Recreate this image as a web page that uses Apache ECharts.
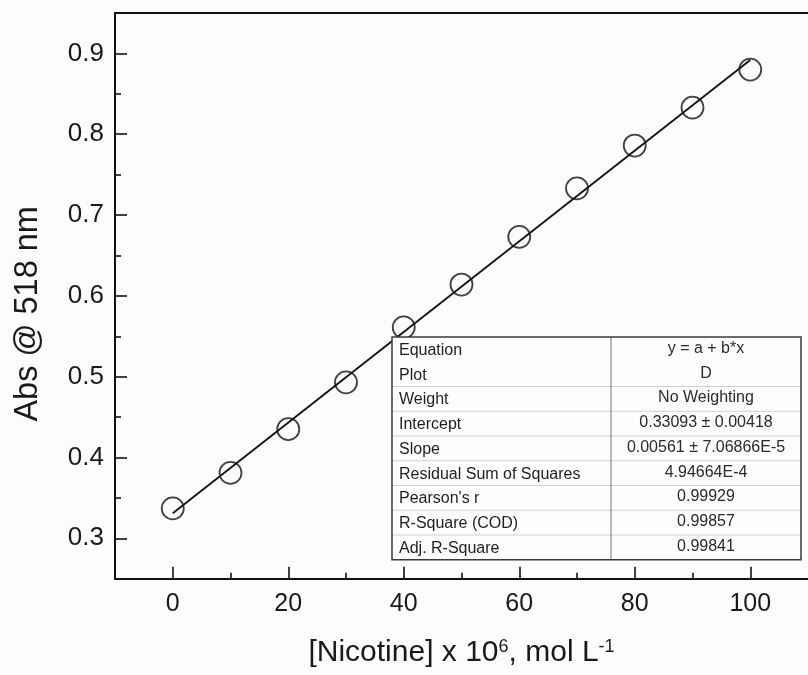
<!DOCTYPE html>
<html>
<head>
<meta charset="utf-8">
<script src="https://cdn.jsdelivr.net/npm/echarts@6/dist/echarts.min.js"></script>
<style>html,body{margin:0;padding:0;background:#fcfcfa;}#c{width:808px;height:675px;}</style>
</head>
<body>
<div id="c"></div>
<script>
// ---- data ----
var concentrations = [0, 10, 20, 30, 40, 50, 60, 70, 80, 90, 100];
var absorbances = [0.337, 0.381, 0.435, 0.493, 0.561, 0.614, 0.673, 0.733, 0.786, 0.833, 0.880];
var fitX = [0, 100];
var fitY = [0.33093, 0.89193];
var xTickValues = [0, 20, 40, 60, 80, 100];
var xMinorTickValues = [10, 30, 50, 70, 90];
var yTickValues = [0.3, 0.4, 0.5, 0.6, 0.7, 0.8, 0.9];
var yMinorTickValues = [0.35, 0.45, 0.55, 0.65, 0.75, 0.85];
var tableLabels = ['Equation', 'Plot', 'Weight', 'Intercept', 'Slope', 'Residual Sum of Squares', "Pearson's r", 'R-Square (COD)', 'Adj. R-Square'];
var tableValues = ['y = a + b*x', 'D', 'No Weighting', '0.33093 \u00b1 0.00418', '0.00561 \u00b1 7.06866E-5', '4.94664E-4', '0.99929', '0.99857', '0.99841'];

// ---- layout ----
var FONT = 'Liberation Sans, Arial, sans-serif';
var chart = echarts.init(document.getElementById('c'));

var tbl = {left: 392, top: 337, right: 801, mid: 611, rowH: 24.75};
var graphics = [];
var nRows = tableLabels.length;
var tblBottom = tbl.top + nRows * tbl.rowH;
graphics.push({type: 'rect', z: 100, shape: {x: tbl.left, y: tbl.top, width: tbl.right - tbl.left, height: tblBottom - tbl.top},
  style: {fill: '#fdfdfc', stroke: 'none'}});
for (var i = 2; i < nRows; i++) {
  var yy = tbl.top + i * tbl.rowH;
  graphics.push({type: 'line', z: 101, shape: {x1: tbl.left, y1: yy, x2: tbl.right, y2: yy}, style: {stroke: '#cfcfcf', lineWidth: 1.2}});
}
graphics.push({type: 'line', z: 102, shape: {x1: tbl.mid, y1: tbl.top, x2: tbl.mid, y2: tblBottom}, style: {stroke: '#8a8a8a', lineWidth: 1.2}});
graphics.push({type: 'rect', z: 103, shape: {x: tbl.left, y: tbl.top, width: tbl.right - tbl.left, height: tblBottom - tbl.top},
  style: {fill: 'none', stroke: '#3a3a3a', lineWidth: 1.5}});
for (var j = 0; j < nRows; j++) {
  var cy = tbl.top + (j + 0.5) * tbl.rowH;
  graphics.push({type: 'text', z: 104, x: tbl.left + 7, y: cy + 1,
    style: {text: tableLabels[j], font: '16px ' + FONT, fill: '#1e1e1e', verticalAlign: 'middle', align: 'left'}});
  graphics.push({type: 'text', z: 104, x: (tbl.mid + tbl.right) / 2, y: cy - 1,
    style: {text: tableValues[j], font: '16px ' + FONT, fill: '#2a2a2a', verticalAlign: 'middle', align: 'center'}});
}

var axisLineStyle = {color: '#111', width: 2};
var option = {
  backgroundColor: '#fcfcfa',
  animation: false,
  grid: {left: 115, top: 13, right: -8.5, bottom: 96.3, containLabel: false},
  xAxis: [
    {
      type: 'value', min: -10, max: 110, position: 'bottom',
      axisLine: {show: true, onZero: false, lineStyle: axisLineStyle},
      axisTick: {show: true, inside: true, length: 12, customValues: xTickValues, lineStyle: {color: '#111', width: 1.6}},
      axisLabel: {show: true, customValues: xTickValues, margin: 13, fontSize: 25, fontFamily: FONT, color: '#1a1a1a'},
      splitLine: {show: false},
      name: '[Nicotine] x 10{sup|6}, mol L{sup|-1}',
      nameLocation: 'middle', nameGap: 59,
      nameTextStyle: {fontSize: 30, fontFamily: FONT, color: '#1a1a1a',
        rich: {sup: {fontSize: 18, fontFamily: FONT, color: '#1a1a1a', verticalAlign: 'top', padding: [0, 0, 0, 0]}}}
    },
    {
      type: 'value', min: -10, max: 110, position: 'bottom',
      axisLine: {show: false, onZero: false},
      axisTick: {show: true, inside: true, length: 6, customValues: xMinorTickValues, lineStyle: {color: '#111', width: 1.6}},
      axisLabel: {show: false},
      splitLine: {show: false}
    },
    {
      type: 'value', min: -10, max: 110, position: 'top',
      axisLine: {show: true, onZero: false, lineStyle: axisLineStyle},
      axisTick: {show: false}, axisLabel: {show: false}, splitLine: {show: false}
    }
  ],
  yAxis: [
    {
      type: 'value', min: 0.25, max: 0.95, position: 'left',
      axisLine: {show: true, onZero: false, lineStyle: axisLineStyle},
      axisTick: {show: true, inside: true, length: 12, customValues: yTickValues, lineStyle: {color: '#111', width: 1.6}},
      axisLabel: {show: true, customValues: yTickValues, margin: 11, fontSize: 26, fontFamily: FONT, color: '#1a1a1a',
        formatter: function (v) { return v.toFixed(1); }},
      splitLine: {show: false},
      name: 'Abs @ 518 nm', nameLocation: 'middle', nameGap: 70,
      nameTextStyle: {fontSize: 32.5, fontFamily: FONT, color: '#1a1a1a', padding: [0, 36, 0, 0]}
    },
    {
      type: 'value', min: 0.25, max: 0.95, position: 'left',
      axisLine: {show: false, onZero: false},
      axisTick: {show: true, inside: true, length: 6, customValues: yMinorTickValues, lineStyle: {color: '#111', width: 1.6}},
      axisLabel: {show: false}, splitLine: {show: false}
    }
  ],
  series: [
    {
      type: 'line', xAxisIndex: 0, yAxisIndex: 0,
      data: fitX.map(function (x, i) { return [x, fitY[i]]; }),
      showSymbol: false, symbol: 'none',
      lineStyle: {color: '#111', width: 1.8}, z: 2
    },
    {
      type: 'scatter', xAxisIndex: 0, yAxisIndex: 0,
      data: concentrations.map(function (x, i) { return [x, absorbances[i]]; }),
      symbol: 'circle', symbolSize: 22,
      itemStyle: {color: 'rgba(0,0,0,0)', borderColor: '#111', borderWidth: 1.8}, z: 3
    }
  ],
  graphic: graphics
};
chart.setOption(option);
</script>
</body>
</html>
